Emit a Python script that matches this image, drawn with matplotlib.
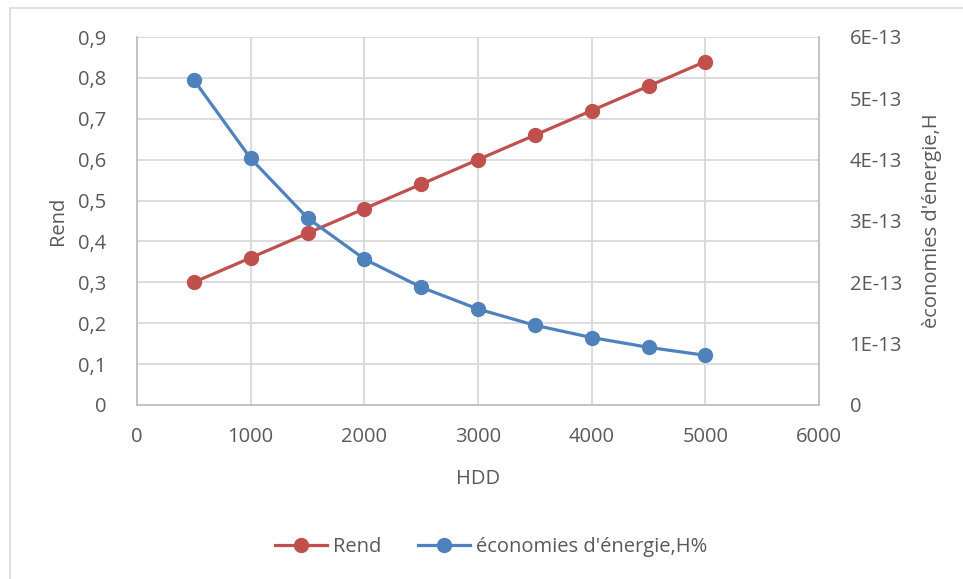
import matplotlib.pyplot as plt
from matplotlib.patches import Rectangle
from matplotlib.lines import Line2D
from matplotlib.ticker import FuncFormatter, MultipleLocator

plt.rcParams['font.family'] = ['Open Sans', 'DejaVu Sans']

hdd = [500, 1000, 1500, 2000, 2500, 3000, 3500, 4000, 4500, 5000]
rend = [0.30, 0.36, 0.42, 0.48, 0.54, 0.60, 0.66, 0.72, 0.78, 0.84]
economies = [5.30e-13, 4.02e-13, 3.05e-13, 2.38e-13, 1.92e-13,
             1.565e-13, 1.30e-13, 1.10e-13, 0.94e-13, 0.81e-13]

red = '#C0504D'
blue = '#4F81BD'
text_col = '#595959'
grid_col = '#D9D9D9'
axis_col = '#BFBFBF'
fs = 14.5

fig = plt.figure(figsize=(9.63, 5.79), dpi=100)
ax = fig.add_axes([137 / 963, 1 - 405 / 579, (819 - 137) / 963, (405 - 37) / 579])
ax2 = ax.twinx()

# chart area border
fig.patches.append(Rectangle((10 / 963, -0.1), 1.2, 1 - 8 / 579 + 0.1,
                             transform=fig.transFigure, fill=False,
                             edgecolor=grid_col, linewidth=1.2))

ax.plot(hdd, rend, color=red, lw=2.3, marker='o', ms=10, zorder=3)
ax2.plot(hdd, economies, color=blue, lw=2.3, marker='o', ms=10, zorder=3)

ax.set_xlim(0, 6000)
ax.set_ylim(0, 0.9)
ax2.set_ylim(0, 6e-13)
ax.xaxis.set_major_locator(MultipleLocator(1000))
ax.yaxis.set_major_locator(MultipleLocator(0.1))
ax2.yaxis.set_major_locator(MultipleLocator(1e-13))

ax.yaxis.set_major_formatter(FuncFormatter(
    lambda v, p: '0' if abs(v) < 1e-9 else f'{v:.1f}'.replace('.', ',')))
ax2.yaxis.set_major_formatter(FuncFormatter(
    lambda v, p: '0' if abs(v) < 1e-20 else f'{round(v / 1e-13):d}E-13'))
ax2.yaxis.get_offset_text().set_visible(False)

ax.grid(True, color=grid_col, lw=1.3)
ax.set_axisbelow(True)

for a in (ax, ax2):
    a.tick_params(length=0, labelsize=fs, labelcolor=text_col)
    for s in a.spines.values():
        s.set_visible(False)
ax.tick_params(axis='y', pad=22)
ax.tick_params(axis='x', pad=16)
ax2.tick_params(axis='y', pad=22)
ax.spines['left'].set_visible(True)
ax.spines['bottom'].set_visible(True)
ax2.spines['right'].set_visible(True)
for s in (ax.spines['left'], ax.spines['bottom'], ax2.spines['right']):
    s.set_color(axis_col)
    s.set_linewidth(1.3)

ax.set_xlabel('HDD', fontsize=fs, color=text_col, labelpad=16)
ax.set_ylabel('Rend', fontsize=fs, color=text_col, labelpad=7)
ax2.set_ylabel("èconomies d'énergie,H", fontsize=fs, color=text_col,
               rotation=90, labelpad=14)

handles = [Line2D([], [], color=red, lw=2.3, marker='o', ms=10),
           Line2D([], [], color=blue, lw=2.3, marker='o', ms=10)]
fig.legend(handles, ['Rend', "économies d'énergie,H%"], loc='center',
           bbox_to_anchor=(491 / 963, 1 - 547 / 579), ncol=2, frameon=False,
           fontsize=fs, labelcolor=text_col, handlelength=2.6,
           handletextpad=0.3, columnspacing=1.8)

fig.savefig('out.png', dpi=100)
